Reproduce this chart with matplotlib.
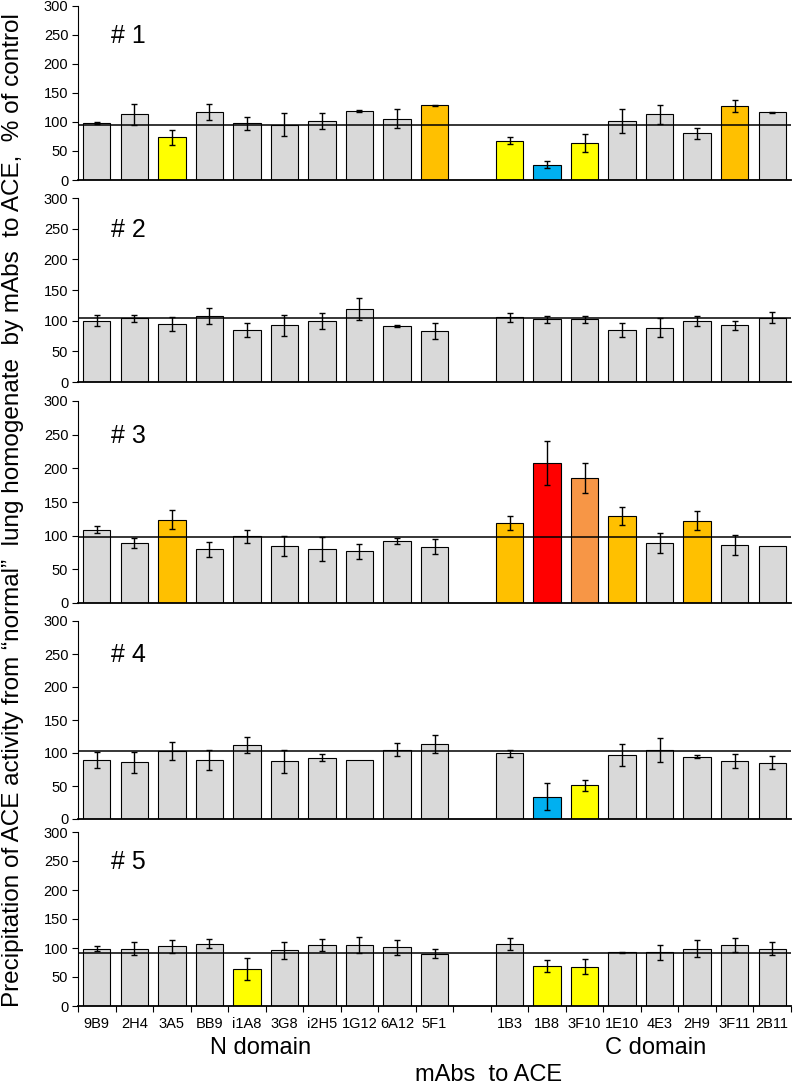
import numpy as np
import matplotlib
matplotlib.use('Agg')
import matplotlib.pyplot as plt

plt.rcParams['font.family'] = ['Liberation Sans', 'DejaVu Sans']

labels = ['9B9', '2H4', '3A5', 'BB9', 'i1A8', '3G8', 'i2H5', '1G12', '6A12', '5F1',
          '1B3', '1B8', '3F10', '1E10', '4E3', '2H9', '3F11', '2B11']
n_domain = 10

# panel data: mean, error, colour code, reference line
vals1 = [97.7, 113, 74, 117, 97.7, 95, 101.7, 119, 105.7, 129,
         68, 26.4, 64, 101.7, 113, 80.5, 127.6, 117]
err1 = [2, 18, 13, 14, 11, 20, 13, 2, 16, 1,
        6, 5.5, 15, 20, 16, 9.5, 10, 1]
col1 = 'GGYGGGGGGO' + 'YBYGGGOG'
ref1 = 95

vals2 = [100, 104, 94.6, 107.6, 84.8, 92.4, 99.5, 119, 91.8, 83,
         105.4, 102, 102, 84.8, 88.6, 100, 92.4, 104.9]
err2 = [9, 5.5, 11, 13, 12, 17, 13.5, 17.5, 1.5, 12.5,
        7.5, 6, 6, 11.5, 16, 8, 7, 9.5]
col2 = 'GGGGGGGGGG' + 'GGGGGGGG'
ref2 = 104

vals3 = [109, 89, 124, 80, 99, 85, 80, 76.7, 92, 83.6,
         118.5, 207.6, 185.4, 129.4, 89, 122.5, 86.6, 85]
err3 = [5, 8, 13.5, 11, 10, 15, 17.5, 11.5, 4, 11.5,
        10.5, 32.5, 22, 13.5, 15, 14, 15, 0]
col3 = 'GGOGGGGGGG' + 'ORLOGOGG'
ref3 = 98

vals4 = [89.4, 86, 103, 89.4, 112, 87.4, 93, 89.4, 105, 113.6,
         99.5, 33.8, 51, 96.5, 105, 94.4, 87.4, 85.4]
err4 = [12.6, 16, 14, 15, 12.5, 17, 5.3, 0, 9.5, 13,
        5, 20, 8.3, 16.5, 18, 2, 10.5, 10]
col4 = 'GGGGGGGGGG' + 'GBYGGGGG'
ref4 = 102.5

vals5 = [99, 99, 102.7, 107.3, 63.5, 95.8, 105, 105, 101, 90,
         107.3, 69, 68, 92.3, 93, 99, 105, 99]
err5 = [4, 11, 10.5, 8, 18.5, 14.5, 10.7, 13.3, 13, 7.7,
        10.7, 9.8, 13, 0.5, 13, 15, 12, 11.7]
col5 = 'GGGGYGGGGG' + 'GYYGGGGG'
ref5 = 92

palette = {'G': '#d9d9d9', 'Y': '#ffff00', 'O': '#ffc000',
           'B': '#00b0f0', 'R': '#ff0000', 'L': '#f79646'}

panels = [
    ('# 1', vals1, err1, col1, ref1, 6, 180),
    ('# 2', vals2, err2, col2, ref2, 198, 382),
    ('# 3', vals3, err3, col3, ref3, 401, 603),
    ('# 4', vals4, err4, col4, ref4, 621, 819),
    ('# 5', vals5, err5, col5, ref5, 832, 1006),
]

W, H = 800, 1085
fig = plt.figure(figsize=(W / 100, H / 100), dpi=100)

x = np.r_[np.arange(n_domain), np.arange(n_domain + 1, len(labels) + 1)]

for i, (name, vals, errs, cols, ref, top, bot) in enumerate(panels):
    ax = fig.add_axes([78 / W, 1 - bot / H, (791 - 78) / W, (bot - top) / H])
    ax.bar(x, vals, width=0.73, color=[palette[c] for c in cols],
           edgecolor='black', linewidth=0.8, zorder=2)
    e = np.array(errs, dtype=float)
    m = e > 0
    ax.errorbar(x[m], np.array(vals)[m], yerr=e[m], fmt='none', ecolor='black',
                elinewidth=1, capsize=2.5, capthick=1, zorder=3)
    ax.axhline(ref, color='black', lw=1.1, zorder=4)
    ax.set_xlim(-0.5, 18.5)
    ax.set_ylim(0, 300)
    ax.set_yticks(np.arange(0, 301, 50))
    ax.tick_params(axis='y', labelsize=10.5, length=4, width=0.8, pad=3)
    for s in ['top', 'right']:
        ax.spines[s].set_visible(False)
    ax.spines['left'].set_linewidth(0.8)
    ax.spines['bottom'].set_linewidth(1.3)
    ax.text(0.38, 248, name, fontsize=18, ha='left', va='center')
    if i < len(panels) - 1:
        ax.set_xticks([])
    else:
        ax.set_xticks(x)
        ax.set_xticklabels(labels, fontsize=10.5)
        ax.set_xticks(np.arange(-0.5, 18.6, 1), minor=True)
        ax.tick_params(axis='x', which='major', length=0, pad=8)
        ax.tick_params(axis='x', which='minor', length=4, width=0.8)

fig.text(261 / W, 1 - 1048 / H, 'N domain', fontsize=17, ha='center', va='center')
fig.text(656 / W, 1 - 1048 / H, 'C domain', fontsize=17, ha='center', va='center')
fig.text(489 / W, 1 - 1075 / H, 'mAbs  to ACE', fontsize=17, ha='center', va='center')
fig.text(13 / W, 1 - 510 / H,
         'Precipitation of ACE activity from \u201cnormal\u201d  lung homogenate  '
         'by mAbs  to ACE,  % of control',
         fontsize=17.5, rotation=90, ha='center', va='center')

fig.savefig('out.png', dpi=100)
